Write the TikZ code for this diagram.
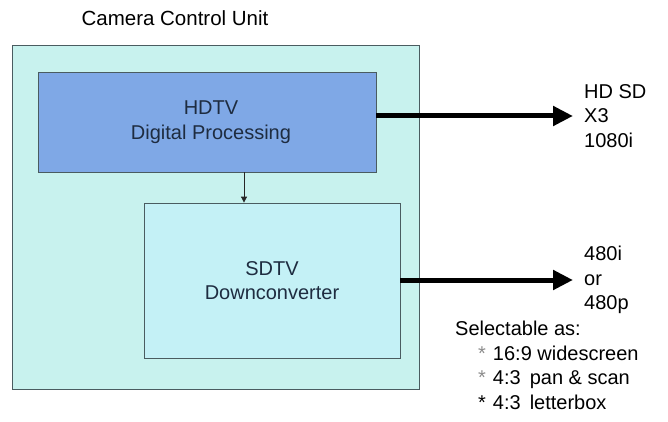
\documentclass[tikz,border=0pt]{standalone}
\usepackage{fontspec}
\setmainfont{Liberation Sans}
\usetikzlibrary{arrows.meta,positioning}
\definecolor{unitfill}{HTML}{C8F2EE}
\definecolor{hdfill}{HTML}{7FA8E6}
\definecolor{sdfill}{HTML}{C4F1F6}
\definecolor{boxline}{HTML}{4A5C60}
\definecolor{boxtext}{HTML}{1E2C40}

\begin{document}
\begin{tikzpicture}[
    x=1pt, y=-1pt,
    every node/.style={
        inner sep=0pt,
        font=\fontsize{20}{24.5}\selectfont
    },
    ccubox/.style={
        draw=boxline, fill=unitfill,
        line width=1pt
    },
    hdbox/.style={
        draw=boxline, fill=hdfill,
        line width=0.8pt,
        text=boxtext, align=center
    },
    sdbox/.style={
        draw=boxline, fill=sdfill,
        line width=0.8pt,
        text=boxtext, align=center
    },
    bigarrow/.style={
        line width=5pt,
        -{Triangle[length=20pt,width=19pt]}
    },
    smallarrow/.style={
        line width=0.8pt, draw=black!85,
        -{Triangle[length=6pt,width=6pt]}
    },
    outlabel/.style={align=left, anchor=west}
]
\useasboundingbox (0,0) rectangle (668,422);
\node (title) at (175,18) {\fontsize{20.5}{24}\selectfont Camera Control Unit};
\node[ccubox, minimum width=407, minimum height=343] (ccu) at (215.5,217.5) {};
\node[hdbox, minimum width=338, minimum height=100] (hdtv) at (207,122)
    {\hspace*{8pt}HDTV\\\hspace*{8pt}Digital Processing};
\node[sdbox, minimum width=256, minimum height=155] (sdtv) at (272,280.5)
    {SDTV\\Downconverter};
\coordinate (hdout) at (573,116);
\coordinate (sdout) at (573,280);
% outputs
\draw[smallarrow] (hdtv.south -| 244,0) -- (sdtv.north -| 244,0);
\draw[bigarrow] (hdtv.east |- hdout) -- (hdout);
\draw[bigarrow] (sdtv.east |- sdout) -- (sdout);
\node[outlabel, right=11pt of hdout] (hdlabel) {HD SD\\X3\\1080i};
\node[outlabel, right=11pt of sdout] (sdlabel) {480i\\or\\480p};
\node[outlabel, anchor=north west] (modes) at (455,321)
    {Selectable as:\\
     \hspace*{23pt}{\color{black!45}*}\hspace{7pt}16:9 widescreen\\
     \hspace*{23pt}{\color{black!45}*}\hspace{7pt}4:3\hspace{9pt}pan \& scan\\
     \hspace*{23pt}*\hspace{7pt}4:3\hspace{9pt}letterbox};
\end{tikzpicture}
\end{document}
